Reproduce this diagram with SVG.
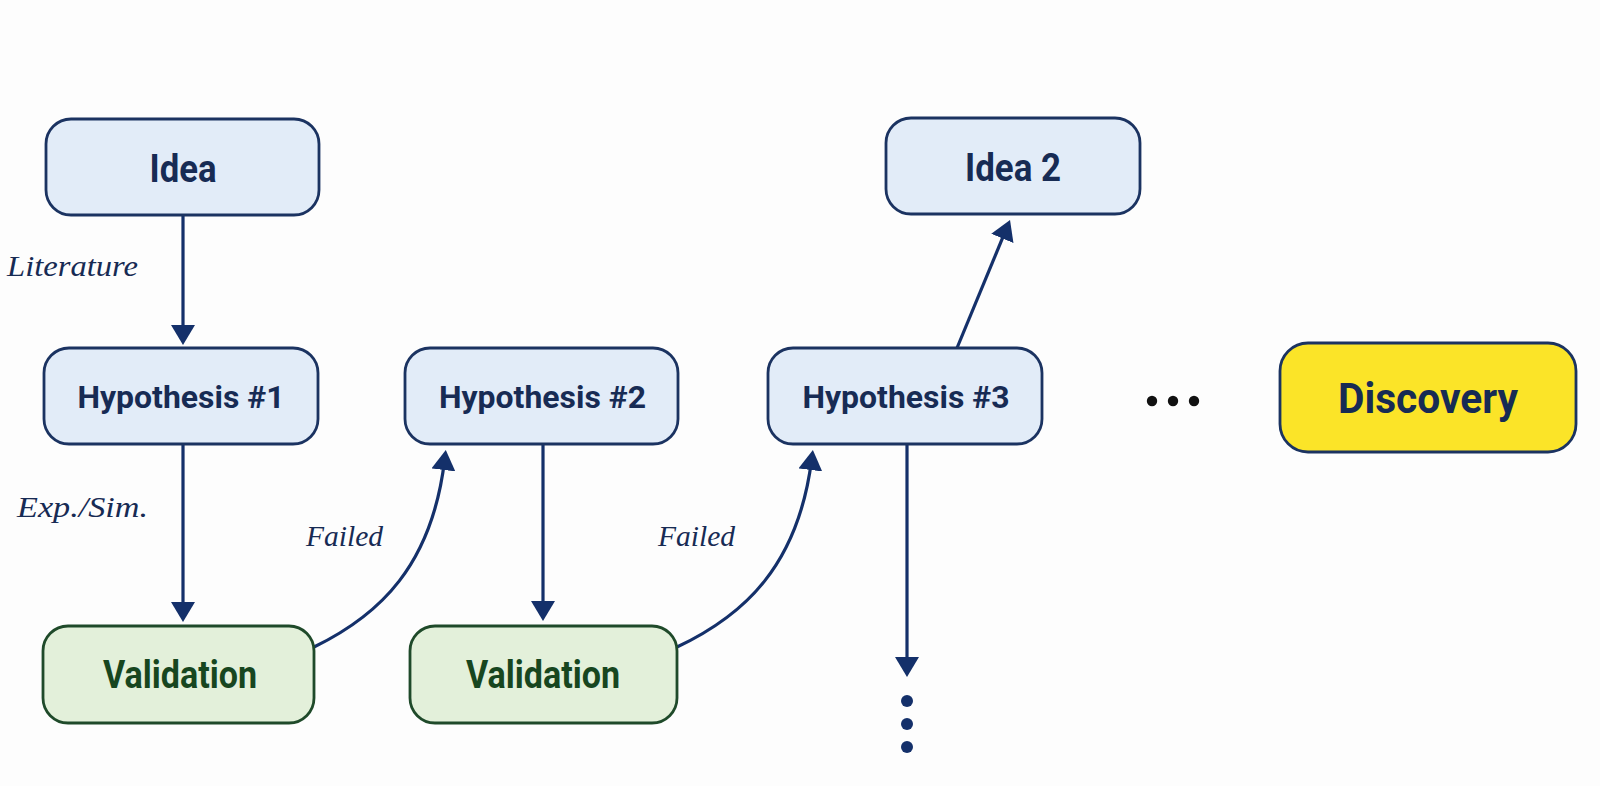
<svg xmlns="http://www.w3.org/2000/svg" width="1600" height="786" viewBox="0 0 1600 786">
<style>
.blue{fill:#e2ecf8;stroke:#1b3361;stroke-width:2.8}
.green{fill:#e3f0da;stroke:#1f4a2a;stroke-width:2.8}
.yellow{fill:#fbe428;stroke:#1b3361;stroke-width:2.8}
.t{font-family:Roboto,"Liberation Sans",sans-serif;font-weight:bold;text-anchor:middle;fill:#172b54}
.tg{fill:#17461f}
.lbl{font-family:"Liberation Serif","DejaVu Serif",serif;font-style:italic;font-size:29px;fill:#172b54}
.c{fill:none;stroke:#14306a;stroke-width:3.2}
</style>
<defs>
<marker id="ah" viewBox="0 0 20 24" refX="10" refY="12" markerWidth="20" markerHeight="24" markerUnits="userSpaceOnUse" orient="auto">
<path d="M0,0 L20,12 L0,24 z" fill="#14306a"/>
</marker>
</defs>
<rect width="1600" height="786" fill="#fdfdfd"/>
<g id="connectors">
<path class="c" d="M183,215 L183,335" marker-end="url(#ah)"/>
<path class="c" d="M183,444 L183,612" marker-end="url(#ah)"/>
<path class="c" d="M543,444 L543,611" marker-end="url(#ah)"/>
<path class="c" d="M907,444 L907,667" marker-end="url(#ah)"/>
<path class="c" d="M957,348 L1006.2,229.2" marker-end="url(#ah)"/>
<path class="c" d="M314,647 C380,615 432,565 444.6,460" marker-end="url(#ah)"/>
<path class="c" d="M677,647 C745,615 798,565 811.6,460" marker-end="url(#ah)"/>
<text class="lbl" x="7" y="276" textLength="131" lengthAdjust="spacingAndGlyphs">Literature</text>
<text class="lbl" x="17" y="517" textLength="131" lengthAdjust="spacingAndGlyphs">Exp./Sim.</text>
<text class="lbl" x="306" y="546" textLength="77" lengthAdjust="spacingAndGlyphs">Failed</text>
<text class="lbl" x="658" y="546" textLength="77" lengthAdjust="spacingAndGlyphs">Failed</text>
</g>
<g id="idea">
<rect class="blue" x="46" y="119" width="273" height="96" rx="25"/>
<text class="t" x="183" y="182" font-size="38" textLength="67" lengthAdjust="spacingAndGlyphs">Idea</text>
</g>
<g id="hyp1">
<rect class="blue" x="44" y="348" width="274" height="96" rx="25"/>
<text class="t" x="181" y="408" font-size="31" textLength="207" lengthAdjust="spacingAndGlyphs">Hypothesis #1</text>
</g>
<g id="val1">
<rect class="green" x="43" y="626" width="271" height="97" rx="25"/>
<text class="t tg" x="180" y="688" font-size="38" textLength="154" lengthAdjust="spacingAndGlyphs">Validation</text>
</g>
<g id="hyp2">
<rect class="blue" x="405" y="348" width="273" height="96" rx="25"/>
<text class="t" x="542.5" y="408" font-size="31" textLength="207" lengthAdjust="spacingAndGlyphs">Hypothesis #2</text>
</g>
<g id="val2">
<rect class="green" x="410" y="626" width="267" height="97" rx="25"/>
<text class="t tg" x="543" y="688" font-size="38" textLength="154" lengthAdjust="spacingAndGlyphs">Validation</text>
</g>
<g id="hyp3">
<rect class="blue" x="768" y="348" width="274" height="96" rx="25"/>
<text class="t" x="906" y="408" font-size="31" textLength="207" lengthAdjust="spacingAndGlyphs">Hypothesis #3</text>
</g>
<g id="idea2">
<rect class="blue" x="886" y="118" width="254" height="96" rx="25"/>
<text class="t" x="1013" y="181" font-size="38" textLength="96" lengthAdjust="spacingAndGlyphs">Idea 2</text>
</g>
<g id="discovery">
<rect class="yellow" x="1280" y="343" width="296" height="109" rx="28"/>
<text class="t" x="1428" y="413" font-size="42" textLength="180" lengthAdjust="spacingAndGlyphs">Discovery</text>
</g>
<g id="ellipsis-h" fill="#111">
<circle cx="1152" cy="401" r="5.2"/>
<circle cx="1173" cy="401" r="5.2"/>
<circle cx="1194" cy="401" r="5.2"/>
</g>
<g id="ellipsis-v" fill="#14306a">
<circle cx="907" cy="701" r="6"/>
<circle cx="907" cy="724" r="6"/>
<circle cx="907" cy="747" r="6"/>
</g>
</svg>
